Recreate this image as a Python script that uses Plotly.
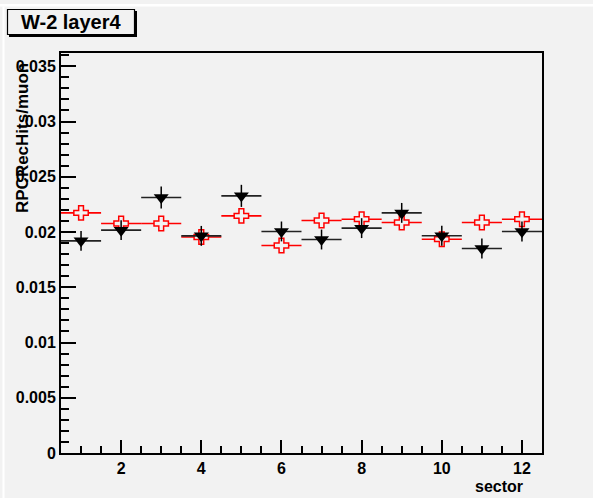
import plotly.graph_objects as go

sectors = [1, 2, 3, 4, 5, 6, 7, 8, 9, 10, 11, 12]
black_vals = [0.0192, 0.02017, 0.02312, 0.01965, 0.02327, 0.02005, 0.01932, 0.02035, 0.02173, 0.01966, 0.01851, 0.02005]
black_err = [0.0009, 0.0009, 0.0010, 0.0009, 0.0010, 0.0009, 0.0009, 0.0009, 0.0009, 0.0009, 0.0009, 0.0009]
red_vals = [0.02173, 0.02077, 0.02077, 0.01955, 0.02146, 0.01878, 0.02104, 0.02116, 0.02086, 0.01935, 0.02086, 0.02116]
red_err = [0.0006] * 12
bin_half = [0.5] * 12

y_tickvals = [0, 0.005, 0.01, 0.015, 0.02, 0.025, 0.03, 0.035]
y_ticktext = ["0", "0.005", "0.01", "0.015", "0.02", "0.025", "0.03", "0.035"]
x_tickvals = [2, 4, 6, 8, 10, 12]
x_ticktext = ["2", "4", "6", "8", "10", "12"]

BG = "#f2f2f2"
FONT = "Liberation Sans, Arial, sans-serif"

L, R, T, B = 61, 542, 53, 453
PW, PH = R - L, B - T


def px(p):
    return (p - L) / PW


def py(p):
    return (B - p) / PH


fig = go.Figure()

fig.add_trace(go.Scatter(
    x=sectors, y=red_vals, mode="markers",
    marker=dict(symbol="cross", size=12, color=BG, line=dict(color="#ff0000", width=1.5)),
    error_x=dict(type="data", array=bin_half, color="#ff0000", thickness=1.6, width=0),
    error_y=dict(type="data", array=red_err, color="#ff0000", thickness=1.5, width=0),
    showlegend=False,
))
fig.add_trace(go.Scatter(
    x=sectors, y=black_vals, mode="markers",
    marker=dict(symbol="triangle-down", size=13, color="#000000", line=dict(width=0)),
    error_x=dict(type="data", array=bin_half, color="#222222", thickness=1.6, width=0),
    error_y=dict(type="data", array=black_err, color="#000000", thickness=1.5, width=0),
    showlegend=False,
))

fig.update_xaxes(
    range=[0.5, 12.5], showgrid=False, zeroline=False,
    showline=True, linecolor="#000000", linewidth=2, mirror=True,
    ticks="inside", ticklen=13, tickwidth=1.5, tickcolor="#000000",
    tickvals=x_tickvals, ticktext=x_ticktext,
    minor=dict(ticks="inside", ticklen=7, tickwidth=1.5, tickcolor="#000000", dtick=0.5, tick0=0, showgrid=False),
    tickfont=dict(family=FONT, size=16, color="#000000", weight="bold"),
)
fig.update_yaxes(
    range=[0, 0.0362], showgrid=False, zeroline=False,
    showline=True, linecolor="#000000", linewidth=2, mirror=True,
    ticks="inside", ticklen=15, tickwidth=1.5, tickcolor="#000000",
    tickvals=y_tickvals, ticktext=y_ticktext,
    minor=dict(ticks="inside", ticklen=8, tickwidth=1.5, tickcolor="#000000", dtick=0.001, tick0=0, showgrid=False),
    tickfont=dict(family=FONT, size=16, color="#000000", weight="bold"),
)

shapes = [
    dict(type="rect", xref="paper", yref="paper", x0=px(0), x1=px(593), y0=py(4), y1=py(6.5),
         fillcolor="#ffffff", line=dict(width=0), layer="below"),
    dict(type="rect", xref="paper", yref="paper", x0=px(2.5), x1=px(4.5), y0=py(6.5), y1=py(498),
         fillcolor="#ffffff", line=dict(width=0), layer="below"),
    dict(type="rect", xref="paper", yref="paper", x0=px(9), x1=px(137), y0=py(11), y1=py(37),
         fillcolor="#000000", line=dict(width=0)),
    dict(type="rect", xref="paper", yref="paper", x0=px(7.5), x1=px(134.5), y0=py(9.5), y1=py(34.5),
         fillcolor=BG, line=dict(color="#000000", width=1.2)),
]

annotations = [
    dict(text="W-2 layer4", xref="paper", yref="paper", x=px(71), y=py(22), xanchor="center", yanchor="middle",
         showarrow=False, font=dict(family=FONT, size=20, color="#000000", weight="bold")),
    dict(text="RPCRecHits/muon", xref="paper", yref="paper", x=px(22), y=py(138), xanchor="center", yanchor="middle",
         textangle=-90, showarrow=False, font=dict(family=FONT, size=17, color="#000000", weight="bold")),
    dict(text="sector", xref="paper", yref="paper", x=px(525), y=py(486), xanchor="right", yanchor="middle",
         showarrow=False, font=dict(family=FONT, size=16, color="#000000", weight="bold")),
]

fig.update_layout(
    width=593, height=498, autosize=False,
    margin=dict(l=L, r=593 - R, t=T, b=498 - B, pad=0),
    paper_bgcolor=BG, plot_bgcolor=BG,
    shapes=shapes, annotations=annotations,
)

fig.write_html("out.html")
